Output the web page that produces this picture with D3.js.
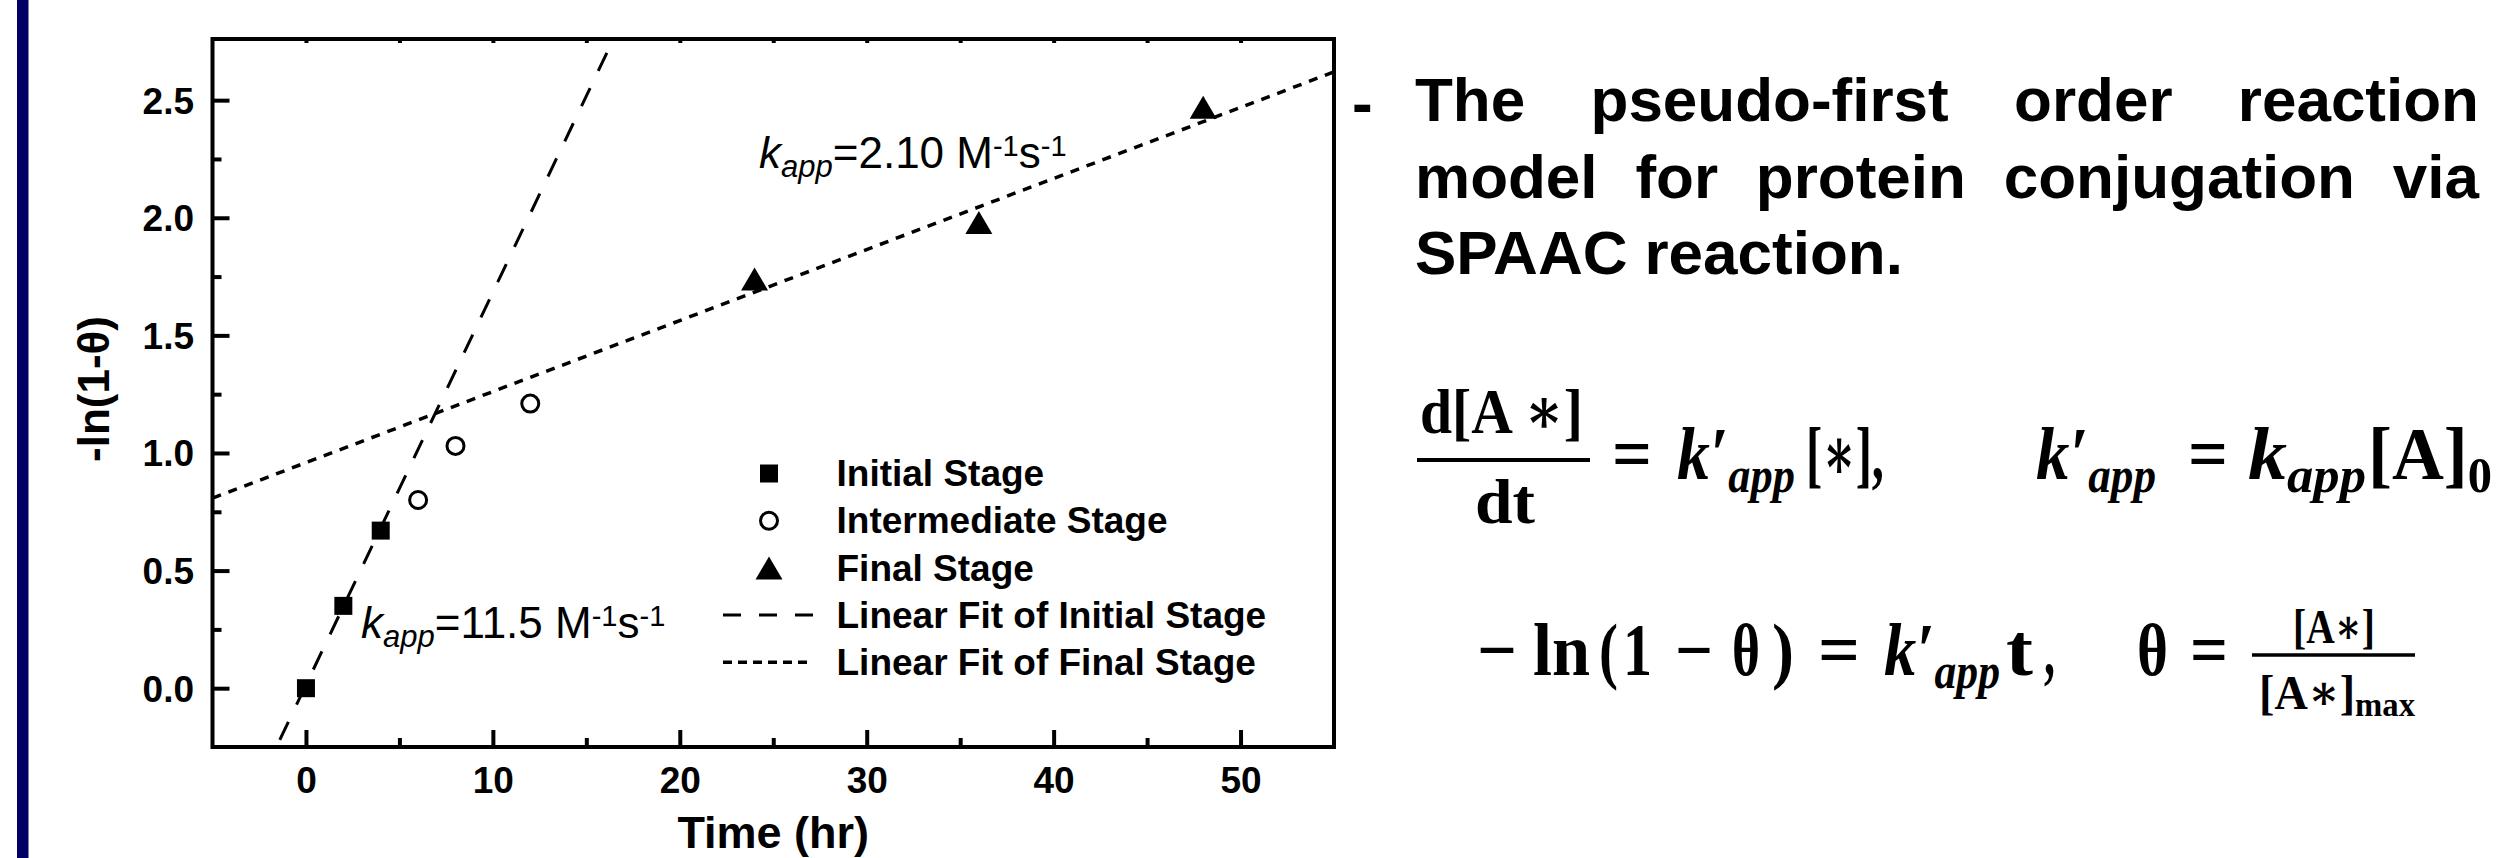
<!DOCTYPE html>
<html lang="en">
  <head>
    <meta charset="UTF-8" />
    <title>Pseudo-first order kinetics</title>
    <style>
      body {
        margin: 0;
        background: #fff;
      }
      svg {
        display: block;
      }
      .sans {
        font-family: "Liberation Sans", Arial, sans-serif;
      }
      .axis text {
        font-family: "Liberation Sans", Arial, sans-serif;
        font-weight: bold;
        font-size: 37px;
        fill: #000;
      }
      .axis line {
        stroke: #000;
        stroke-width: 4px;
      }
      .axis path {
        display: none;
      }
      .math {
        font-family: "Liberation Serif", "DejaVu Serif", serif;
        font-weight: bold;
      }
    </style>
  </head>

  <body>
    <script src="https://cdn.jsdelivr.net/npm/d3@7"></script>
    <script>
      /* global d3 */

      const width = 2496,
        height = 858;

      // data
      const initialTime = [0, 2, 4];
      const initialValue = [0, 0.35, 0.67];
      const intermediateTime = [6, 8, 12];
      const intermediateValue = [0.8, 1.03, 1.21];
      const finalTime = [24, 36, 48];
      const finalValue = [1.74, 1.98, 2.47];

      // fit lines, end points in data units
      const initialFitTime = [-1.4, 16.45];
      const initialFitValue = [-0.22, 2.76];
      const finalFitTime = [-5, 55];
      const finalFitValue = [0.808, 2.62];

      const xMajorTicks = [0, 10, 20, 30, 40, 50];
      const xMinorTicks = [5, 15, 25, 35, 45];
      const xTopTicks = [0, 5, 10, 15, 20, 25, 30, 35, 40, 45, 50];
      const yMajorTicks = [0, 0.5, 1.0, 1.5, 2.0, 2.5];
      const yMinorTicks = [0.25, 0.75, 1.25, 1.75, 2.25];

      const legendLabels = [
        "Initial Stage",
        "Intermediate Stage",
        "Final Stage",
        "Linear Fit of Initial Stage",
        "Linear Fit of Final Stage"
      ];

      const descLines = [
        "The pseudo-first order reaction",
        "model for protein conjugation via",
        "SPAAC reaction."
      ];

      const svg = d3
        .select("body")
        .append("svg")
        .attr("width", width)
        .attr("height", height);

      // navy side bar
      svg
        .append("rect")
        .attr("x", 17)
        .attr("y", 0)
        .attr("width", 11.5)
        .attr("height", height)
        .attr("fill", "#000066");

      const x = d3.scaleLinear().domain([-5, 55]).range([212.5, 1334]);
      const y = d3.scaleLinear().domain([-0.25, 2.76]).range([747, 39]);

      svg
        .append("clipPath")
        .attr("id", "plotClip")
        .append("rect")
        .attr("x", x(-5))
        .attr("y", y(2.76))
        .attr("width", x(55) - x(-5))
        .attr("height", y(-0.25) - y(2.76));

      // axes
      const xAxis = svg
        .append("g")
        .attr("class", "axis")
        .attr("transform", `translate(0,${y(-0.25)})`)
        .call(
          d3
            .axisBottom(x)
            .tickValues(xMajorTicks)
            .tickSize(-17)
            .tickFormat(d3.format("d"))
        );
      xAxis.selectAll("text").attr("y", 46).attr("dy", null);

      svg
        .append("g")
        .attr("class", "axis")
        .attr("transform", `translate(0,${y(-0.25)})`)
        .call(d3.axisBottom(x).tickValues(xMinorTicks).tickSize(-9).tickFormat(""));

      svg
        .append("g")
        .attr("class", "axis")
        .attr("transform", `translate(0,${y(2.76)})`)
        .call(d3.axisTop(x).tickValues(xTopTicks).tickSize(-4).tickFormat(""));

      const yAxis = svg
        .append("g")
        .attr("class", "axis")
        .attr("transform", `translate(${x(-5)},0)`)
        .call(
          d3
            .axisLeft(y)
            .tickValues(yMajorTicks)
            .tickSize(-17)
            .tickFormat(d3.format(".1f"))
        );
      yAxis.selectAll("text").attr("x", -18.5).attr("dy", 13);

      svg
        .append("g")
        .attr("class", "axis")
        .attr("transform", `translate(${x(-5)},0)`)
        .call(d3.axisLeft(y).tickValues(yMinorTicks).tickSize(-9).tickFormat(""));

      // frame
      svg
        .append("rect")
        .attr("x", x(-5))
        .attr("y", y(2.76))
        .attr("width", x(55) - x(-5))
        .attr("height", y(-0.25) - y(2.76))
        .attr("fill", "none")
        .attr("stroke", "#000")
        .attr("stroke-width", 4);

      // axis titles
      svg
        .append("text")
        .attr("class", "sans")
        .attr("x", (x(-5) + x(55)) / 2)
        .attr("y", 848)
        .attr("text-anchor", "middle")
        .style("font-size", "45px")
        .style("font-weight", "bold")
        .text("Time (hr)");

      svg
        .append("text")
        .attr("class", "sans")
        .attr("transform", "translate(109,389) rotate(-90)")
        .attr("text-anchor", "middle")
        .style("font-size", "44px")
        .style("font-weight", "bold")
        .text("-ln(1-θ)");

      // fit lines
      const line = d3
        .line()
        .x(d => x(d[0]))
        .y(d => y(d[1]));

      const plot = svg.append("g").attr("clip-path", "url(#plotClip)");

      plot
        .append("path")
        .datum(d3.zip(initialFitTime, initialFitValue))
        .attr("d", line)
        .attr("fill", "none")
        .attr("stroke", "#000")
        .attr("stroke-width", 3)
        .attr("stroke-dasharray", "20,19");

      plot
        .append("path")
        .datum(d3.zip(finalFitTime, finalFitValue))
        .attr("d", line)
        .attr("fill", "none")
        .attr("stroke", "#000")
        .attr("stroke-width", 3.5)
        .attr("stroke-dasharray", "9,8");

      // symbols
      const square = d3.symbol().type(d3.symbolSquare).size(18 * 18);
      const triangle = "M0,-11.5L13.5,11.5L-13.5,11.5Z";

      plot
        .selectAll(".sq")
        .data(d3.zip(initialTime, initialValue))
        .join("path")
        .attr("class", "sq")
        .attr("transform", d => `translate(${x(d[0])},${y(d[1])})`)
        .attr("d", square)
        .attr("fill", "#000");

      plot
        .selectAll(".ci")
        .data(d3.zip(intermediateTime, intermediateValue))
        .join("circle")
        .attr("class", "ci")
        .attr("cx", d => x(d[0]))
        .attr("cy", d => y(d[1]))
        .attr("r", 8.5)
        .attr("fill", "#fff")
        .attr("stroke", "#000")
        .attr("stroke-width", 3);

      plot
        .selectAll(".tr")
        .data(d3.zip(finalTime, finalValue))
        .join("path")
        .attr("class", "tr")
        .attr("transform", d => `translate(${x(d[0])},${y(d[1])})`)
        .attr("d", triangle)
        .attr("fill", "#000");

      // rate constant annotations
      function kLabel(x0, y0, value) {
        const t = svg
          .append("text")
          .attr("class", "sans")
          .attr("x", x0)
          .attr("y", y0)
          .style("font-size", "44px");
        t.append("tspan").style("font-style", "italic").text("k");
        t.append("tspan")
          .style("font-style", "italic")
          .style("font-size", "31px")
          .attr("dy", 9)
          .text("app");
        t.append("tspan").attr("dy", -9).text("=" + value + " M");
        t.append("tspan").style("font-size", "29px").attr("dy", -12).text("-1");
        t.append("tspan").attr("dy", 12).text("s");
        t.append("tspan").style("font-size", "29px").attr("dy", -12).text("-1");
      }
      kLabel(361, 638, "11.5");
      kLabel(759, 168, "2.10");

      // legend
      const legend = svg.append("g");
      const legendY = i => 486 + i * 47.3;
      const symX = 769;

      legend
        .selectAll("text")
        .data(legendLabels)
        .join("text")
        .attr("class", "sans")
        .attr("x", 836.5)
        .attr("y", (d, i) => legendY(i))
        .style("font-size", "37px")
        .style("font-weight", "bold")
        .text(d => d);

      legend
        .append("path")
        .attr("transform", `translate(${symX},${legendY(0) - 12.5})`)
        .attr("d", square)
        .attr("fill", "#000");
      legend
        .append("circle")
        .attr("cx", symX)
        .attr("cy", legendY(1) - 12.5)
        .attr("r", 8.5)
        .attr("fill", "#fff")
        .attr("stroke", "#000")
        .attr("stroke-width", 3);
      legend
        .append("path")
        .attr("transform", `translate(${symX},${legendY(2) - 12.5})`)
        .attr("d", triangle)
        .attr("fill", "#000");
      legend
        .append("line")
        .attr("x1", 723)
        .attr("x2", 813)
        .attr("y1", legendY(3) - 13)
        .attr("y2", legendY(3) - 13)
        .attr("stroke", "#000")
        .attr("stroke-width", 3)
        .attr("stroke-dasharray", "18,18");
      legend
        .append("line")
        .attr("x1", 723)
        .attr("x2", 813)
        .attr("y1", legendY(4) - 13)
        .attr("y2", legendY(4) - 13)
        .attr("stroke", "#000")
        .attr("stroke-width", 3.5)
        .attr("stroke-dasharray", "9,6");

      // description text on the right, justified
      const desc = svg
        .append("g")
        .attr("class", "sans")
        .style("font-size", "62px")
        .style("font-weight", "bold");

      desc.append("text").attr("x", 1352).attr("y", 124).text("-");

      const descBase = [121, 197.5, 274];
      descLines.forEach((s, li) => {
        const words = s.split(" ");
        const nodes = words.map(w =>
          desc.append("text").attr("y", descBase[li]).text(w)
        );
        const widths = nodes.map(n => n.node().getComputedTextLength());
        const last = li === descLines.length - 1;
        const gap = last
          ? 17
          : (2479 - 1415 - d3.sum(widths)) / (words.length - 1);
        let cx = 1415;
        nodes.forEach((n, i) => {
          n.attr("x", cx);
          cx += widths[i] + gap;
        });
      });

      // equations: each piece is stretched to the span it takes in the figure
      const eq = svg.append("g").attr("class", "math");
      const M = 74, S = 50;
      const pieces = [
        { t: "d[A ∗]", x0: 1420, x1: 1583, y: 433, size: 64 },
        { t: "dt", x0: 1475, x1: 1535, y: 523, size: 64 },
        { t: "=", x0: 1612, x1: 1652, y: 479, size: M },
        { t: "k′", sub: "app", x0: 1677, x1: 1795, y: 479, size: M, it: true },
        { t: "[∗],", x0: 1806, x1: 1884, y: 479, size: M },
        { t: "k′", sub: "app", x0: 2036, x1: 2156, y: 479, size: M, it: true },
        { t: "=", x0: 2188, x1: 2228, y: 479, size: M },
        { t: "k", sub: "app", x0: 2248, x1: 2366, y: 479, size: M, it: true },
        { t: "[A]", sub: "0", x0: 2368, x1: 2492, y: 479, size: M },
        { t: "−", x0: 1477, x1: 1517, y: 675, size: M },
        { t: "ln", x0: 1533, x1: 1590, y: 675, size: M },
        { t: "(", x0: 1599, x1: 1618, y: 675, size: M },
        { t: "1", x0: 1623, x1: 1652, y: 675, size: M },
        { t: "−", x0: 1675, x1: 1713, y: 675, size: M },
        { t: "θ", x0: 1732, x1: 1760, y: 675, size: M },
        { t: ")", x0: 1772, x1: 1794, y: 675, size: M },
        { t: "=", x0: 1818, x1: 1860, y: 675, size: M },
        { t: "k′", sub: "app", x0: 1884, x1: 2000, y: 675, size: M, it: true },
        { t: "t", x0: 2006, x1: 2033, y: 675, size: M },
        { t: ",", x0: 2044, x1: 2055, y: 675, size: M },
        { t: "θ", x0: 2137, x1: 2168, y: 675, size: M },
        { t: "=", x0: 2190, x1: 2228, y: 675, size: M },
        { t: "[A∗]", x0: 2293, x1: 2375, y: 643, size: 48 },
        { t: "[A∗]", sub: "max", x0: 2259, x1: 2415, y: 709, size: 48, subSize: 34, subDy: 7 }
      ];

      const texts = eq
        .selectAll("text")
        .data(pieces)
        .join("text")
        .attr("x", d => d.x0)
        .attr("y", d => d.y)
        .attr("textLength", d => d.x1 - d.x0)
        .attr("lengthAdjust", "spacingAndGlyphs")
        .style("font-size", d => d.size + "px");

      texts
        .append("tspan")
        .style("font-style", d => (d.it ? "italic" : "normal"))
        .text(d => d.t);

      texts
        .filter(d => d.sub)
        .append("tspan")
        .attr("dy", d => d.subDy || 13)
        .style("font-style", d => (d.it ? "italic" : "normal"))
        .style("font-size", d => (d.subSize || S) + "px")
        .text(d => d.sub);

      const bars = [
        { x0: 1417, x1: 1590, y: 460, h: 4 },
        { x0: 2252, x1: 2415, y: 655, h: 3.5 }
      ];
      eq.selectAll("rect")
        .data(bars)
        .join("rect")
        .attr("x", d => d.x0)
        .attr("y", d => d.y - d.h / 2)
        .attr("width", d => d.x1 - d.x0)
        .attr("height", d => d.h)
        .attr("fill", "#000");
    </script>
  </body>
</html>
